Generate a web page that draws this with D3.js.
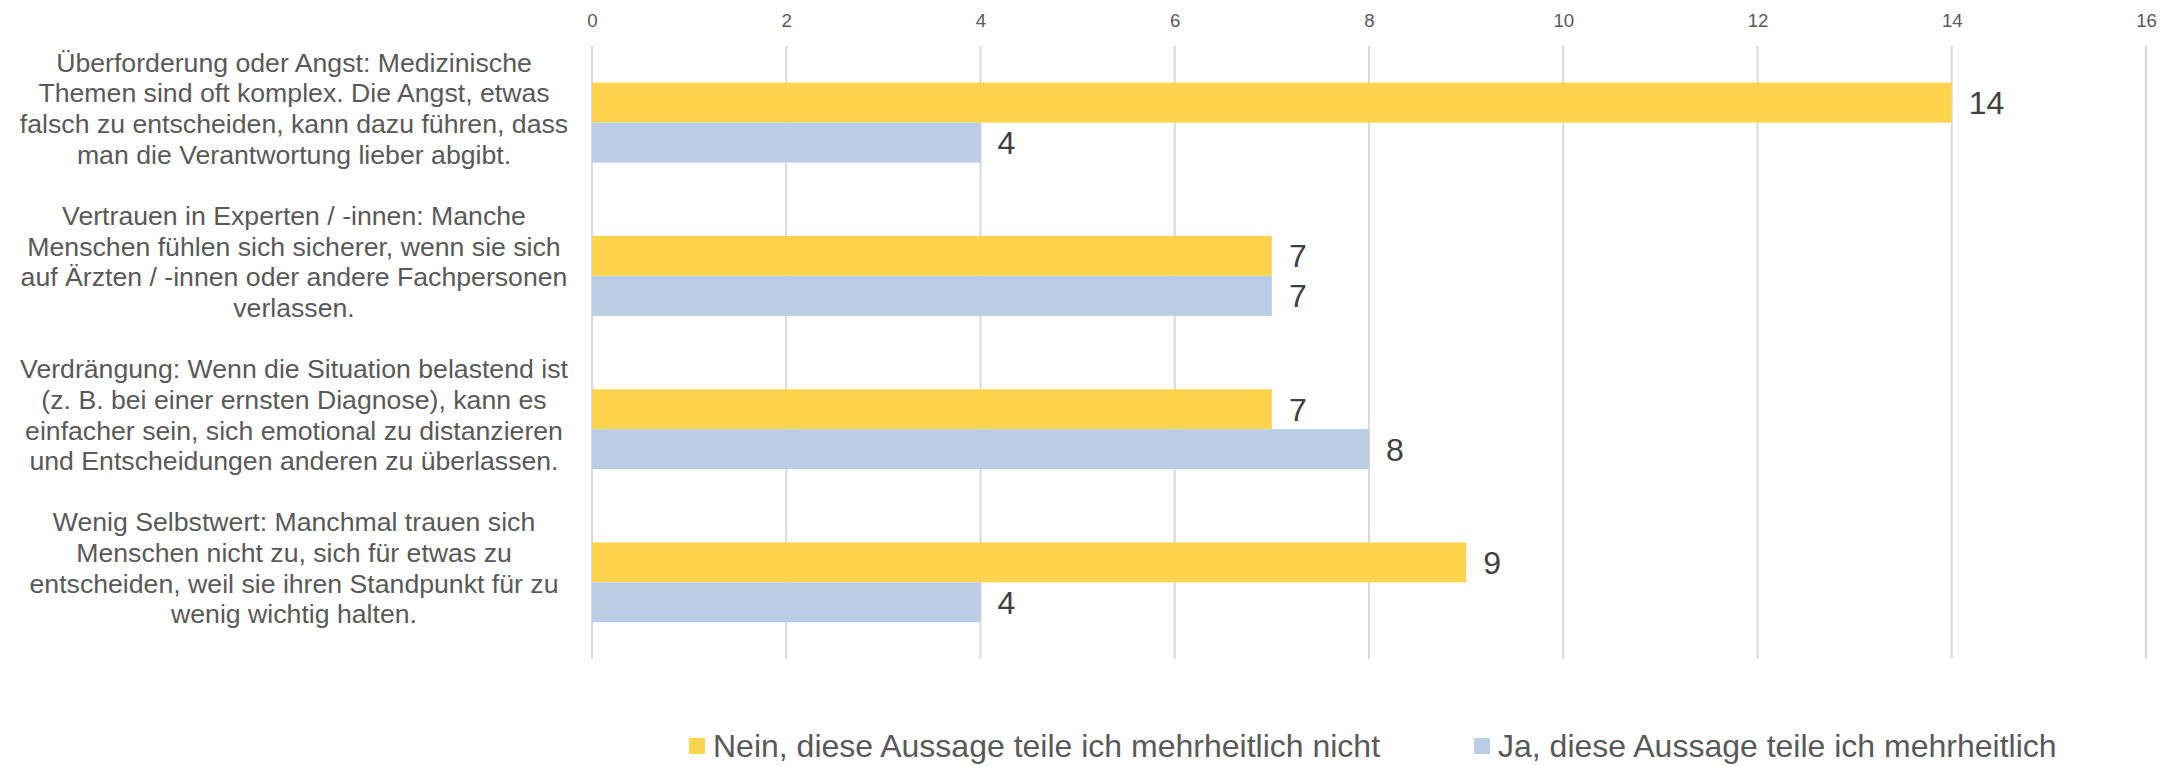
<!DOCTYPE html>
<html>
<head>
<meta charset="utf-8">
<script src="https://cdn.jsdelivr.net/npm/d3@7"></script>
<style>
  html, body { margin: 0; padding: 0; background: #ffffff; }
  svg { display: block; font-family: Arial, "Liberation Sans", sans-serif; }
</style>
</head>
<body>
<svg id="chart" width="2175" height="766"></svg>
<script>
const categories = [
  ["Überforderung oder Angst: Medizinische", "Themen sind oft komplex. Die Angst, etwas", "falsch zu entscheiden, kann dazu führen, dass", "man die Verantwortung lieber abgibt."],
  ["Vertrauen in Experten / -innen: Manche", "Menschen fühlen sich sicherer, wenn sie sich", "auf Ärzten / -innen oder andere Fachpersonen", "verlassen."],
  ["Verdrängung: Wenn die Situation belastend ist", "(z. B. bei einer ernsten Diagnose), kann es", "einfacher sein, sich emotional zu distanzieren", "und Entscheidungen anderen zu überlassen."],
  ["Wenig Selbstwert: Manchmal trauen sich", "Menschen nicht zu, sich für etwas zu", "entscheiden, weil sie ihren Standpunkt für zu", "wenig wichtig halten."]
];
const seriesNames = ["Nein, diese Aussage teile ich mehrheitlich nicht", "Ja, diese Aussage teile ich mehrheitlich"];
const neinValues = [14, 7, 7, 9];
const jaValues = [4, 7, 8, 4];
const tickValues = [0, 2, 4, 6, 8, 10, 12, 14, 16];
const colors = ["#FED44E", "#B9CDE5"];

const svg = d3.select("#chart");
const plot = { left: 592, right: 2146, top: 46, bottom: 659 };

const x = d3.scaleLinear().domain([0, 16]).range([plot.left, plot.right]);
const idx = categories.map((d, i) => i);
const y = d3.scaleBand().domain(idx).range([plot.top, plot.bottom])
  .paddingInner(0.479).paddingOuter(0.2395);
const sub = d3.scaleBand().domain([0, 1]).range([0, y.bandwidth()]);

// top axis labels via d3.axisTop
const axis = d3.axisTop(x).tickValues(tickValues).tickSize(0).tickPadding(0);
const gAxis = svg.append("g").attr("transform", `translate(0,27)`).call(axis);
gAxis.select(".domain").remove();
gAxis.selectAll("text").attr("font-size", "18.67px").attr("fill", "#595959")
  .attr("font-family", "Arial, 'Liberation Sans', sans-serif").attr("dy", 0);

// vertical gridlines
svg.append("g").selectAll("line").data(tickValues).join("line")
  .attr("x1", d => x(d)).attr("x2", d => x(d))
  .attr("y1", plot.top).attr("y2", plot.bottom)
  .attr("stroke", "#D9D9D9").attr("stroke-width", 2);

// bars and value labels
const series = [neinValues, jaValues];
series.forEach((vals, s) => {
  svg.append("g").selectAll("rect").data(vals).join("rect")
    .attr("x", x(0))
    .attr("y", (d, i) => y(i) + sub(s))
    .attr("width", d => x(d) - x(0))
    .attr("height", sub.bandwidth())
    .attr("fill", colors[s]);
  svg.append("g").selectAll("text").data(vals).join("text")
    .attr("x", d => x(d) + 17)
    .attr("y", (d, i) => y(i) + sub(s) + sub.bandwidth() / 2)
    .attr("dy", "0.36em")
    .attr("font-size", "32px").attr("fill", "#404040")
    .text(d => d);
});

// category labels
const labelX = 294;
const lineH = 30.7;
categories.forEach((lines, i) => {
  const cy = y(i) + y.bandwidth() / 2;
  const t = svg.append("text").attr("text-anchor", "middle")
    .attr("font-size", "26.67px").attr("fill", "#595959");
  lines.forEach((ln, k) => {
    t.append("tspan").attr("x", labelX).attr("y", cy - 51 + k * lineH).text(ln);
  });
});

// legend
const legY = 746;
let lx = 689;
seriesNames.forEach((name, s) => {
  svg.append("rect").attr("x", lx).attr("y", legY - 8).attr("width", 16).attr("height", 16).attr("fill", colors[s]);
  const t = svg.append("text").attr("x", lx + 24).attr("y", legY).attr("dy", "0.35em")
    .attr("font-size", "32px").attr("fill", "#595959").text(name);
  lx = lx + 24 + t.node().getComputedTextLength() + 94;
});
</script>
</body>
</html>
